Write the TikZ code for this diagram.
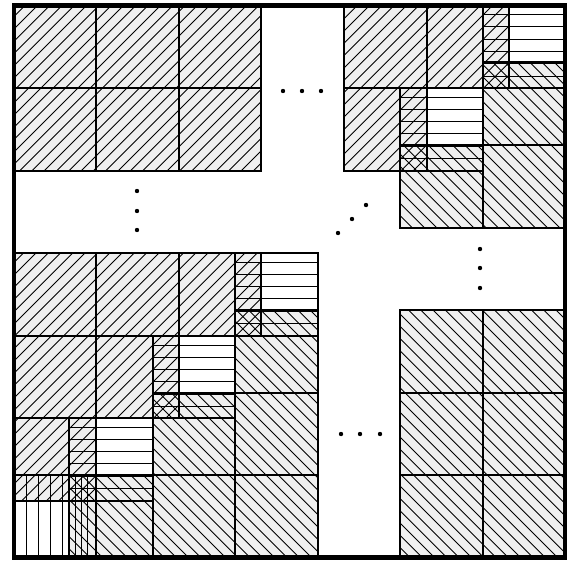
\documentclass[tikz,border=0pt]{standalone}
\begin{document}
\begin{tikzpicture}[x=1pt,y=-1pt,
  cellfill/.style={fill=black!6},
  border/.style={draw=black,line width=2pt},
  hatch/.style={draw=black,line width=0.9pt},
  frame/.style={draw=black,line width=4.2pt},
  dot/.style={circle,fill=black,inner sep=0pt,minimum size=4.4pt}]
\useasboundingbox (0,0) rectangle (580,573);
% cells hatched ///
\def\Ucells{14/5.5/96/88, 96/5.5/178.5/88, 178.5/5.5/261/88,
  14/88/96/171, 96/88/178.5/171, 178.5/88/261/171,
  344/5.5/427/88, 427/5.5/509/88, 344/88/427/171,
  14/253/96/336, 96/253/178.5/336, 178.5/253/261/336,
  14/336/96/418, 96/336/178.5/418, 14/418/96/501}
% cells hatched \\\
\def\Dcells{483/62/565/145, 400/145/483/228, 483/145/565/228,
  235/310/318/393, 153/393/235/475, 235/393/318/475,
  69/475/153/557.5, 153/475/235/557.5, 235/475/318/557.5,
  400/310/483/393, 483/310/565/393, 400/393/483/475,
  483/393/565/475, 400/475/483/557.5, 483/475/565/557.5}
% blocks hatched horizontally
\def\Hblocks{483/5.5/565/88, 400/88/483/171,
  235/253/318/336, 153/336/235/418, 69/418/153/501}
% fills
\foreach \xa/\ya/\xb/\yb in \Ucells {\fill[cellfill] (\xa,\ya) rectangle (\xb,\yb);}
\foreach \xa/\ya/\xb/\yb in \Dcells {\fill[cellfill] (\xa,\ya) rectangle (\xb,\yb);}
% /// hatching
\foreach \xa/\ya/\xb/\yb in \Ucells {
  \begin{scope}
    \clip (\xa,\ya) rectangle (\xb,\yb);
    \pgfmathtruncatemacro\ks{floor((\xa+\ya-6)/12.3)-1}
    \pgfmathtruncatemacro\ke{ceil((\xb+\yb-6)/12.3)+1}
    \foreach \k in {\ks,...,\ke}{
      \pgfmathsetmacro\cc{6+12.3*\k}
      \draw[hatch] ({\cc-\ya},\ya) -- ({\cc-\yb},\yb);
    }
  \end{scope}
}
% \\\ hatching
\foreach \xa/\ya/\xb/\yb in \Dcells {
  \begin{scope}
    \clip (\xa,\ya) rectangle (\xb,\yb);
    \pgfmathtruncatemacro\ks{floor((\xa-\yb)/12.3)-1}
    \pgfmathtruncatemacro\ke{ceil((\xb-\ya)/12.3)+1}
    \foreach \k in {\ks,...,\ke}{
      \pgfmathsetmacro\cc{12.3*\k}
      \draw[hatch] ({\cc+\ya},\ya) -- ({\cc+\yb},\yb);
    }
  \end{scope}
}
% horizontal hatching
\foreach \xa/\ya/\xb/\yb in \Hblocks {
  \foreach \k in {0,...,5}{
    \draw[hatch] (\xa,{\ya+9+12.3*\k}) -- (\xb,{\ya+9+12.3*\k});
  }
}
% vertical hatching (last diagonal block)
\foreach \vx in {26,38.3,50.6,62.9,75.2,81.7,87.5}{
  \draw[hatch] (\vx,475) -- (\vx,557.5);
}
% borders
\foreach \xa/\ya/\xb/\yb in \Ucells {\draw[border] (\xa,\ya) rectangle (\xb,\yb);}
\foreach \xa/\ya/\xb/\yb in \Dcells {\draw[border] (\xa,\ya) rectangle (\xb,\yb);}
\foreach \xa/\ya/\xb/\yb in \Hblocks {\draw[border] (\xa,\ya) rectangle (\xb,\yb);}
\draw[border] (14,475) rectangle (96,557.5);
% outer frame
\draw[frame] (14,5.5) rectangle (565,557.5);
% dots
\node[dot] (h1) at (283,91) {};
\node[dot] (h2) at (302,91) {};
\node[dot] (h3) at (321,91) {};
\node[dot] (v1) at (137,191) {};
\node[dot] (v2) at (137,211) {};
\node[dot] (v3) at (137,230) {};
\node[dot] (g1) at (338,233) {};
\node[dot] (g2) at (352,219) {};
\node[dot] (g3) at (366,205) {};
\node[dot] (r1) at (480,249) {};
\node[dot] (r2) at (480,268) {};
\node[dot] (r3) at (480,288) {};
\node[dot] (b1) at (341,434) {};
\node[dot] (b2) at (360,434) {};
\node[dot] (b3) at (380,434) {};
\end{tikzpicture}
\end{document}
